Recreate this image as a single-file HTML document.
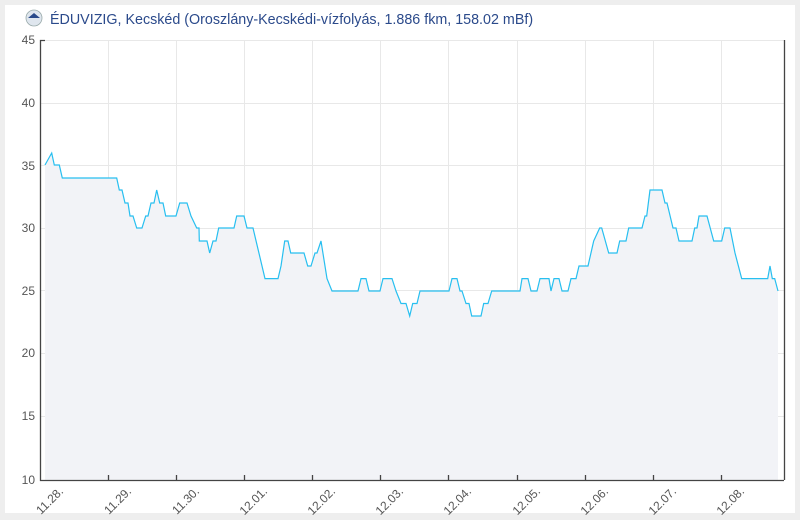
<!DOCTYPE html>
<html><head><meta charset="utf-8"><style>
body{margin:0;background:#eeeeee;width:800px;height:520px;overflow:hidden;font-family:"Liberation Sans",sans-serif}
</style></head><body>
<svg width="800" height="520" xmlns="http://www.w3.org/2000/svg" style="position:absolute;left:0;top:0">
<rect x="5" y="5" width="790" height="508" fill="#fff"/>
<circle cx="34" cy="18" r="8" fill="#dfe6ee" stroke="#9aa" stroke-width="0.8"/>
<path d="M28 18 L34 13 L40 18 Z" fill="#2a4a8a"/>
<text x="50" y="24" font-size="14.3" fill="#2b4a8b">ÉDUVIZIG, Kecskéd (Oroszlány-Kecskédi-vízfolyás, 1.886 fkm, 158.02 mBf)</text>
<g stroke="#e8e8e8" stroke-width="1">
<line x1="40" y1="40.5" x2="784" y2="40.5"/><line x1="40" y1="103.5" x2="784" y2="103.5"/><line x1="40" y1="165.5" x2="784" y2="165.5"/><line x1="40" y1="228.5" x2="784" y2="228.5"/><line x1="40" y1="290.5" x2="784" y2="290.5"/><line x1="40" y1="353.5" x2="784" y2="353.5"/><line x1="40" y1="416.5" x2="784" y2="416.5"/>
<line x1="108.5" y1="40" x2="108.5" y2="480"/><line x1="176.5" y1="40" x2="176.5" y2="480"/><line x1="244.5" y1="40" x2="244.5" y2="480"/><line x1="312.5" y1="40" x2="312.5" y2="480"/><line x1="380.5" y1="40" x2="380.5" y2="480"/><line x1="448.5" y1="40" x2="448.5" y2="480"/><line x1="517.5" y1="40" x2="517.5" y2="480"/><line x1="585.5" y1="40" x2="585.5" y2="480"/><line x1="653.5" y1="40" x2="653.5" y2="480"/><line x1="721.5" y1="40" x2="721.5" y2="480"/>
</g>
<polygon fill="#f2f3f7" points="45,480 45,165 51.7,153 54.3,165 59.3,165 62.3,178 116.7,178 119.3,190 122,190 125,203 128,203 130,216 133,216 136.7,228 142,228 145.7,216 148,216 151,203 154,203 156.7,190 159.7,203 163,203 165.7,216 176,216 179.7,203 187,203 191,216 196.7,228 199,228 199.3,241 207,241 209.7,253 213,241 216,241 218.7,228 234,228 236.7,216 244,216 247,228 253,228 265,278.6 278,278.6 281,266 284.7,241 288,241 290.7,253 304,253 307.7,266 311,266 315,253 317,253 321,241 327,278.6 332,291 358,291 361,278.6 366,278.6 369,291 380,291 383,278.6 392,278.6 396,291 401,303.5 406,303.5 409.7,316 412.7,303.5 417,303.5 420,291 449,291 452,278.6 457,278.6 460,291 462,291 466,303.5 469,303.5 471.7,316 481,316 483.7,303.5 488,303.5 491.7,291 520,291 522,278.6 528,278.6 531,291 537,291 540,278.6 549,278.6 551,291 554,278.6 559,278.6 562,291 568,291 571,278.6 576,278.6 579,266 588,266 593.7,241 599.7,228 601.7,228 608.7,253 617,253 619.7,241 626,241 628.7,228 642,228 645,216 646.7,216 650,190 662,190 665,203 667,203 673,228 676,228 679,241 692,241 694.7,228 697,228 699,216 707,216 713.7,241 721.7,241 724.7,228 730,228 735,253 741.7,278.6 767.7,278.6 770,266 772.3,278.6 774.7,278.6 778,291 778,480"/>
<polyline fill="none" stroke="#27bff0" stroke-width="1.2" points="45,165 51.7,153 54.3,165 59.3,165 62.3,178 116.7,178 119.3,190 122,190 125,203 128,203 130,216 133,216 136.7,228 142,228 145.7,216 148,216 151,203 154,203 156.7,190 159.7,203 163,203 165.7,216 176,216 179.7,203 187,203 191,216 196.7,228 199,228 199.3,241 207,241 209.7,253 213,241 216,241 218.7,228 234,228 236.7,216 244,216 247,228 253,228 265,278.6 278,278.6 281,266 284.7,241 288,241 290.7,253 304,253 307.7,266 311,266 315,253 317,253 321,241 327,278.6 332,291 358,291 361,278.6 366,278.6 369,291 380,291 383,278.6 392,278.6 396,291 401,303.5 406,303.5 409.7,316 412.7,303.5 417,303.5 420,291 449,291 452,278.6 457,278.6 460,291 462,291 466,303.5 469,303.5 471.7,316 481,316 483.7,303.5 488,303.5 491.7,291 520,291 522,278.6 528,278.6 531,291 537,291 540,278.6 549,278.6 551,291 554,278.6 559,278.6 562,291 568,291 571,278.6 576,278.6 579,266 588,266 593.7,241 599.7,228 601.7,228 608.7,253 617,253 619.7,241 626,241 628.7,228 642,228 645,216 646.7,216 650,190 662,190 665,203 667,203 673,228 676,228 679,241 692,241 694.7,228 697,228 699,216 707,216 713.7,241 721.7,241 724.7,228 730,228 735,253 741.7,278.6 767.7,278.6 770,266 772.3,278.6 774.7,278.6 778,291"/>
<g stroke="#444" stroke-width="1.3" fill="none">
<polyline points="45,40.5 40.5,40.5 40.5,480.5 784,480.5"/>
<line x1="784.5" y1="40" x2="784.5" y2="480"/>
<line x1="108.5" y1="480" x2="108.5" y2="475"/><line x1="176.5" y1="480" x2="176.5" y2="475"/><line x1="244.5" y1="480" x2="244.5" y2="475"/><line x1="312.5" y1="480" x2="312.5" y2="475"/><line x1="380.5" y1="480" x2="380.5" y2="475"/><line x1="448.5" y1="480" x2="448.5" y2="475"/><line x1="517.5" y1="480" x2="517.5" y2="475"/><line x1="585.5" y1="480" x2="585.5" y2="475"/><line x1="653.5" y1="480" x2="653.5" y2="475"/><line x1="721.5" y1="480" x2="721.5" y2="475"/>
</g>
<g font-size="12" fill="#555" text-anchor="end">
<text x="35" y="44">45</text><text x="35" y="107">40</text><text x="35" y="170">35</text><text x="35" y="232">30</text><text x="35" y="295">25</text><text x="35" y="357">20</text><text x="35" y="420">15</text><text x="35" y="484">10</text>
</g>
<g font-size="12" fill="#555" text-anchor="end">
<text transform="translate(64,492) rotate(-45)">11.28.</text>
<text transform="translate(132,492) rotate(-45)">11.29.</text>
<text transform="translate(200,492) rotate(-45)">11.30.</text>
<text transform="translate(268,492) rotate(-45)">12.01.</text>
<text transform="translate(336,492) rotate(-45)">12.02.</text>
<text transform="translate(404,492) rotate(-45)">12.03.</text>
<text transform="translate(472,492) rotate(-45)">12.04.</text>
<text transform="translate(541,492) rotate(-45)">12.05.</text>
<text transform="translate(609,492) rotate(-45)">12.06.</text>
<text transform="translate(677,492) rotate(-45)">12.07.</text>
<text transform="translate(745,492) rotate(-45)">12.08.</text>
</g>
</svg>
</body></html>
